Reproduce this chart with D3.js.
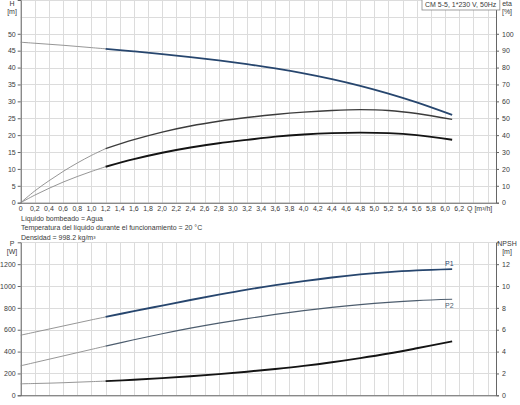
<!DOCTYPE html>
<html>
<head>
<meta charset="utf-8">
<script src="https://cdn.jsdelivr.net/npm/d3@7"></script>
<style>
  body { margin: 0; background: #fff; }
  svg text { font-family: "Liberation Sans", Arial, sans-serif; font-size: 7px; fill: #3a3a3a; }
</style>
</head>
<body>
<div id="chart"></div>
<script>
// Pump curves CM 5-5
const W = 520, H = 405;

// flow points (m3/h)
const flow = [0, 0.2, 0.4, 0.6, 0.8, 1.0, 1.2, 1.6, 2.0, 2.4, 2.8, 3.2, 3.6, 4.0, 4.4, 4.8, 5.2, 5.6, 6.1];
// head [m]
const head = [47.5, 47.2, 46.9, 46.6, 46.25, 45.9, 45.55, 44.8, 44.0, 43.1, 42.1, 41.0, 39.75, 38.3, 36.6, 34.6, 32.3, 29.7, 26.0];
// efficiencies [%]
const etaPump = [0, 7, 13, 18.5, 23.5, 28, 32, 37.3, 41.8, 45.4, 48.2, 50.4, 52.2, 53.6, 54.6, 55.1, 54.6, 52.8, 49.3];
const etaTotal = [0, 4.5, 8.5, 12.2, 15.5, 18.5, 21.3, 25.8, 29.6, 32.7, 35.2, 37.2, 39.1, 40.4, 41.2, 41.5, 41.2, 40.0, 37.3];
// power [W]
const powerP1 = [550, 578, 606, 634, 662, 690, 717, 770, 821, 872, 921, 967, 1008, 1045, 1078, 1106, 1128, 1143, 1155];
const powerP2 = [270, 300, 330, 360, 390, 420, 450, 508, 563, 614, 660, 702, 740, 774, 804, 830, 851, 867, 879];
// NPSH [m]
const npsh = [1.05, 1.08, 1.11, 1.15, 1.2, 1.25, 1.3, 1.42, 1.57, 1.74, 1.94, 2.16, 2.41, 2.69, 3.02, 3.4, 3.82, 4.3, 4.93];

const qTicks = d3.range(0, 6.21, 0.2);
const hTicks = d3.range(0, 51, 5);
const etaTicks = d3.range(0, 101, 10);
const pTicks = d3.range(0, 1201, 200);
const npshTicks = d3.range(0, 13, 2);
const thickFrom = 1.2;

const infoLines = [
  'Líquido bombeado = Agua',
  'Temperatura del líquido durante el funcionamiento = 20 °C',
  'Densidad = 998.2 kg/m³'
];

const svg = d3.select('#chart').append('svg')
  .attr('width', W).attr('height', H);

const x = d3.scaleLinear().domain([0, 6.72]).range([20.7, 496]);
const yH = d3.scaleLinear().domain([0, 60]).range([202.7, 0]);
const yEta = d3.scaleLinear().domain([0, 120]).range([202.7, 0]);
const yP = d3.scaleLinear().domain([0, 1400]).range([395.3, 242.3]);
const yN = d3.scaleLinear().domain([0, 14]).range([395.3, 242.3]);

const fmtQ = v => d3.format('.1f')(v).replace('.', ',').replace(/^0,0$/, '0');

function grid(yScale, yMax, step) {
  const g = svg.append('g').attr('class', 'grid');
  const y0 = yScale.range()[0], y1 = yScale.range()[1];
  g.selectAll('.v').data(d3.range(0, 6.61, 0.2)).enter().append('line')
    .attr('x1', d => Math.round(x(d)) + 0.5).attr('x2', d => Math.round(x(d)) + 0.5)
    .attr('y1', y0).attr('y2', y1)
    .style('stroke', '#dcdcdc').style('stroke-width', 1);
  g.selectAll('.h').data(d3.range(0, yMax + 1, step)).enter().append('line')
    .attr('x1', x.range()[0]).attr('x2', x.range()[1])
    .attr('y1', d => Math.round(yScale(d)) + 0.5).attr('y2', d => Math.round(yScale(d)) + 0.5)
    .style('stroke', '#dcdcdc').style('stroke-width', 1);
}

grid(yH, 60, 5);
grid(yP, 1400, 200);

function axes(yLeft, leftTicks, yRight, rightTicks, fmtL) {
  const left = svg.append('g').attr('transform', `translate(${x.range()[0]},0)`)
    .call(d3.axisLeft(yLeft).tickValues(leftTicks).tickSize(3).tickPadding(2).tickFormat(fmtL));
  const right = svg.append('g').attr('transform', `translate(${x.range()[1]},0)`)
    .call(d3.axisRight(yRight).tickValues(rightTicks).tickSize(3).tickPadding(3));
  [left, right].forEach(a => {
    a.select('.domain').style('stroke', '#666');
    a.selectAll('.tick line').style('stroke', '#666');
    a.selectAll('text').style('font-size', '7px').style('font-family', '"Liberation Sans", Arial, sans-serif');
  });
  svg.append('line')
    .attr('x1', x.range()[0]).attr('x2', x.range()[1])
    .attr('y1', yLeft.range()[0] + 0.5).attr('y2', yLeft.range()[0] + 0.5)
    .style('stroke', '#666');
}

axes(yH, hTicks, yEta, etaTicks, d3.format('d'));
axes(yP, pTicks, yN, npshTicks, d3.format('d'));

// Q axis labels
svg.append('g').selectAll('text').data(qTicks).enter().append('text')
  .attr('x', d => x(d)).attr('y', 211)
  .attr('text-anchor', 'middle')
  .text(d => fmtQ(d));
svg.append('text').attr('x', x(6.31)).attr('y', 211).text('Q [m³/h]');

// axis titles
function title(xp, yp, l1, l2, anchor) {
  const t = svg.append('text').attr('x', xp).attr('y', yp).attr('text-anchor', anchor);
  t.append('tspan').attr('x', xp).text(l1);
  t.append('tspan').attr('x', xp).attr('dy', 8).text(l2);
}
title(12, 6, 'H', '[m]', 'middle');
title(507, 6, 'eta', '[%]', 'middle');
title(12, 246, 'P', '[W]', 'middle');
title(507, 246, 'NPSH', '[m]', 'middle');

// info text
svg.append('g').selectAll('text').data(infoLines).enter().append('text')
  .attr('x', 21).attr('y', (d, i) => 221 + i * 9.3)
  .text(d => d);

// curves
function curve(values, yScale, color, width) {
  const pts = flow.map((q, i) => ({ q: q, v: values[i] }));
  const line = d3.line().x(d => x(d.q)).y(d => yScale(d.v)).curve(d3.curveCatmullRom);
  svg.append('path').datum(pts.filter(d => d.q <= thickFrom)).attr('d', line)
    .style('fill', 'none').style('stroke', '#8a8a8a').style('stroke-width', 0.9);
  svg.append('path').datum(pts.filter(d => d.q >= thickFrom)).attr('d', line)
    .style('fill', 'none').style('stroke', color).style('stroke-width', width);
}

curve(head, yH, '#27466e', 1.8);
curve(etaPump, yEta, '#3c3c3c', 1.4);
curve(etaTotal, yEta, '#141414', 1.9);
curve(powerP1, yP, '#27466e', 1.8);
curve(powerP2, yP, '#4d5d6e', 1.2);
curve(npsh, yN, '#141414', 1.9);

svg.append('text').attr('x', x(6.0)).attr('y', yP(1155) - 3).style('fill', '#27466e').text('P1');
svg.append('text').attr('x', x(6.0)).attr('y', yP(879) + 9).style('fill', '#4d5d6e').text('P2');

// pump name box
const boxText = svg.append('text').attr('x', 425).attr('y', 7).text('CM 5-5, 1*230 V, 50Hz');
const bb = boxText.node().getBBox();
svg.append('rect')
  .attr('x', bb.x - 3).attr('y', -1).attr('width', bb.width + 6).attr('height', 11)
  .style('fill', '#fff').style('stroke', '#888').style('stroke-width', 0.8);
boxText.raise();
</script>
</body>
</html>
